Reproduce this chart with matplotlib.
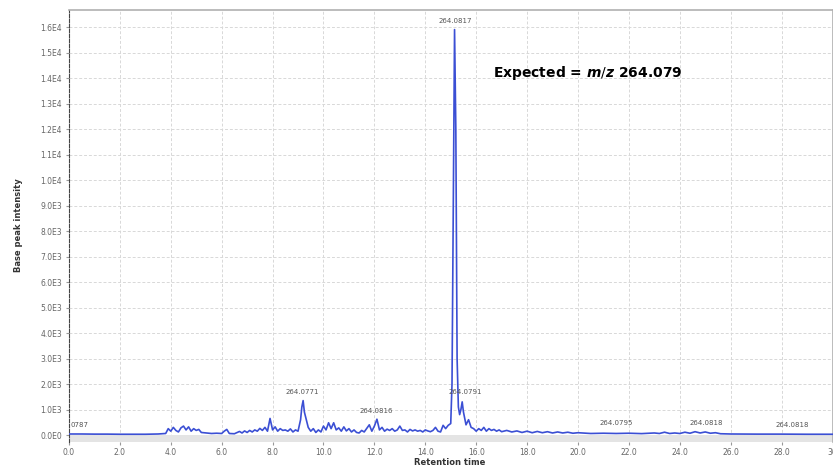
#!/usr/bin/env python3
"""Base peak chromatogram, m/z 264.079 extraction."""

import matplotlib
matplotlib.use('Agg')
import matplotlib.pyplot as plt

plt.rcParams['mathtext.fontset'] = 'custom'
plt.rcParams['mathtext.it'] = 'DejaVu Sans:italic:bold'

# trace (retention time in min, intensity in counts)
rt = [0.0, 0.5, 1.0, 1.5, 2.0, 2.5, 3.0, 3.5, 3.8, 3.9, 4.0, 4.1, 4.2, 4.3, 4.4, 4.5,
      4.6, 4.7, 4.8, 4.9, 5.0, 5.1, 5.2, 5.4, 5.6, 5.8, 6.0, 6.1, 6.2, 6.3, 6.5, 6.7,
      6.8, 6.9, 7.0, 7.1, 7.2, 7.3, 7.4, 7.5, 7.6, 7.7, 7.8, 7.9, 8.0, 8.1, 8.2, 8.3,
      8.4, 8.5, 8.6, 8.7, 8.8, 8.9, 9.0, 9.1, 9.15, 9.2, 9.25, 9.3, 9.4, 9.5, 9.6, 9.7,
      9.8, 9.9, 10.0, 10.1, 10.2, 10.3, 10.4, 10.5, 10.6, 10.7, 10.8, 10.9, 11.0, 11.1,
      11.2, 11.3, 11.4, 11.5, 11.6, 11.7, 11.8, 11.9, 12.0, 12.1, 12.2, 12.3, 12.4, 12.5,
      12.6, 12.7, 12.8, 12.9, 13.0, 13.1, 13.2, 13.3, 13.4, 13.5, 13.6, 13.7, 13.8, 13.9,
      14.0, 14.1, 14.2, 14.3, 14.4, 14.5, 14.6, 14.7, 14.8, 14.9, 15.0, 15.05, 15.1, 15.15,
      15.2, 15.25, 15.3, 15.35, 15.4, 15.45, 15.5, 15.6, 15.7, 15.8, 15.9, 16.0, 16.1, 16.2,
      16.3, 16.4, 16.5, 16.6, 16.7, 16.8, 16.9, 17.0, 17.2, 17.4, 17.6, 17.8, 18.0, 18.2,
      18.4, 18.6, 18.8, 19.0, 19.2, 19.4, 19.6, 19.8, 20.0, 20.5, 21.0, 21.5, 22.0, 22.5,
      23.0, 23.2, 23.4, 23.6, 23.8, 24.0, 24.2, 24.4, 24.6, 24.8, 25.0, 25.2, 25.4, 25.6,
      26.0, 27.0, 28.0, 29.0, 30.0]
intensity = [40, 40, 35, 35, 30, 30, 30, 40, 60, 250, 150, 300, 180, 120, 280, 350,
             200, 320, 150, 250, 180, 220, 100, 80, 60, 70, 60, 150, 220, 60, 50, 140,
             80, 160, 100, 180, 120, 200, 150, 260, 180, 300, 150, 650, 200, 320, 150, 250,
             180, 200, 150, 240, 120, 200, 150, 600, 1100, 1350, 900, 700, 300, 150, 250, 100,
             200, 120, 350, 200, 480, 250, 480, 200, 280, 150, 320, 160, 250, 120,
             200, 100, 80, 180, 120, 260, 400, 150, 350, 620, 200, 300, 150, 230,
             180, 250, 150, 200, 350, 180, 200, 120, 220, 160, 200, 150, 180, 120,
             200, 160, 130, 180, 300, 150, 120, 380, 250, 380, 450, 2000, 9000, 15900,
             12000, 3000, 1100, 800, 1000, 1300, 900, 400, 600, 300, 250, 150, 250, 180,
             300, 150, 250, 180, 220, 150, 200, 130, 180, 120, 160, 100, 150, 90,
             140, 90, 130, 80, 120, 80, 110, 70, 90, 60, 70, 60, 70, 55,
             80, 60, 110, 60, 80, 60, 110, 70, 130, 80, 120, 70, 90, 50,
             40, 35, 35, 30, 30]

# peak annotations: (rt, intensity, label)
peak_rt = [15.17, 9.18, 12.09, 15.56, 21.5, 25.05, 28.4]
peak_y = [16230, 1700, 940, 1670, 460, 460, 390]
peak_labels = ['264.0817', '264.0771', '264.0816', '264.0791', '264.0795', '264.0818', '264.0818']

x_ticks = [i * 2.0 for i in range(16)]
x_tick_labels = [f'{t:.1f}' for t in x_ticks[:-1]] + ['30']
y_ticks = [i * 1000 for i in range(17)]
y_tick_labels = ['0.0E0'] + [f'{v / 1000:.1f}E3' for v in y_ticks[1:10]] + \
                [f'{v / 10000:.1f}E4' for v in y_ticks[10:]]

fig = plt.figure(figsize=(8.33, 4.70), dpi=100)
ax = fig.add_axes([0.0828, 0.0606, 0.9166, 0.918])
ax.set_xlim(0, 30)
ax.set_ylim(-255, 16667)

ax.axhspan(-255, 0, color='#e4e4e4', lw=0, zorder=1)
ax.plot(rt, intensity, color='#3b4fd4', lw=1.2, zorder=3)

for x, y, lab in zip(peak_rt, peak_y, peak_labels):
    ax.text(x, y, lab, fontsize=5, color='#555555', ha='center', va='center', zorder=4)
ax.text(0.05, 390, '0787', fontsize=5, color='#555555', ha='left', va='center', zorder=4)

ax.text(16.66, 14200, r'Expected = $m/z$ 264.079', fontsize=10, fontweight='bold',
        color='black', ha='left', va='center')

ax.set_xticks(x_ticks)
ax.set_xticklabels(x_tick_labels)
ax.set_yticks(y_ticks)
ax.set_yticklabels(y_tick_labels)
ax.tick_params(labelsize=5.5, labelcolor='#666666', length=2, color='#999999', pad=3)
ax.grid(True, color='#d8d8d8', linestyle=(0, (3, 2)), lw=0.7)
ax.set_axisbelow(True)

for side in ['top', 'right']:
    ax.spines[side].set_color('#b0b0b0')
    ax.spines[side].set_linewidth(1.2)
ax.spines['bottom'].set_visible(False)
ax.spines['left'].set_color('#444444')
ax.spines['left'].set_linestyle((0, (3, 1.5)))
ax.spines['left'].set_linewidth(0.8)

fig.text(0.54, 0.016, 'Retention time', fontsize=6, fontweight='bold', color='#333333',
         ha='center', va='center')
fig.text(0.022, 0.52, 'Base peak intensity', fontsize=6, fontweight='bold', color='#333333',
         ha='center', va='center', rotation=90)

fig.savefig('out.png', dpi=100)
